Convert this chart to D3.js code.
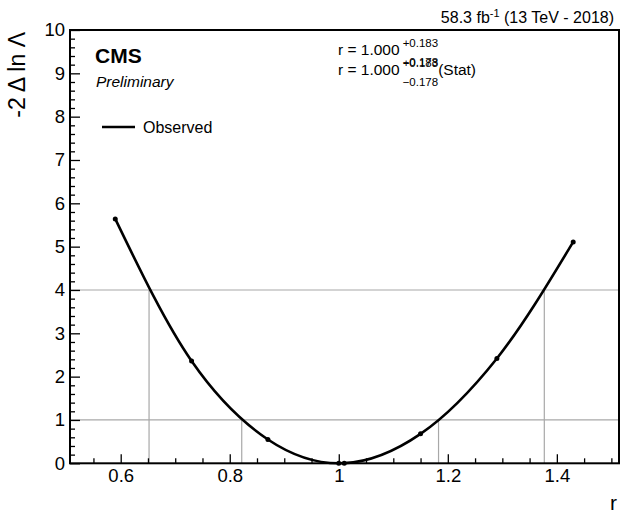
<!DOCTYPE html>
<head>
<meta charset="utf-8">
<style>
body, html {
  margin: 0;
  padding: 0;
  background: #fff;
  font-family: "Liberation Sans", Arial, sans-serif;
}
.grid {
  stroke: #a8a8a8;
  stroke-width: 1.2;
  fill: none;
}
.curve {
  fill: none;
  stroke: #000;
  stroke-width: 2.6;
}
.axis text {
  font-family: "Liberation Sans", Arial, sans-serif;
  font-size: 18.5px;
  fill: #000;
}
.axis line {
  stroke: #000;
  stroke-width: 1.3;
}
</style>
<script src="https://d3js.org/d3.v7.min.js"></script>
</head>
<body>
<script>

// likelihood scan points (r, -2 dlnL)
var scanR   = [0.59, 0.73, 0.87, 1.00, 1.01, 1.15, 1.29, 1.43];
var scanNll = [5.64, 2.36, 0.55, 0.00, 0.003, 0.68, 2.42, 5.11];

// 1 and 2 sigma crossings
var crossR     = [0.652, 0.822, 1.183, 1.377];
var crossLevel = [4, 1, 1, 4];
var levels     = [1, 4];

var xTicks = [0.6, 0.8, 1, 1.2, 1.4];
var xTickLabels = ["0.6", "0.8", "1", "1.2", "1.4"];
var yTicks = [0, 1, 2, 3, 4, 5, 6, 7, 8, 9, 10];

var fitLabels = ["", "(Stat)"];
var fitCentral = ["1.000", "1.000"];
var fitUp   = ["+0.183", "+0.183"];
var fitDown = ["\u22120.178", "\u22120.178"];

var width = 621,
    height = 516,
    m = {left: 70, right: 619, top: 30, bottom: 463.3};

var x = d3.scaleLinear().domain([0.507, 1.514]).range([m.left, m.right]);
var y = d3.scaleLinear().domain([0, 10]).range([m.bottom, m.top]);

var svg = d3.select("body").append("svg")
    .attr("width", width)
    .attr("height", height);

//--------------------------------------
// reference lines
svg.selectAll("line.hline")
    .data(levels)
  .enter().append("line")
    .attr("class", "grid")
    .attr("x1", m.left).attr("x2", m.right)
    .attr("y1", function(d) { return y(d); })
    .attr("y2", function(d) { return y(d); });

svg.selectAll("line.vline")
    .data(crossR)
  .enter().append("line")
    .attr("class", "grid")
    .attr("x1", function(d) { return x(d); })
    .attr("x2", function(d) { return x(d); })
    .attr("y1", y(0))
    .attr("y2", function(d, i) { return y(crossLevel[i]); });

//--------------------------------------
// axes
var xMinor = d3.range(0.55, 1.51, 0.05).filter(function(v) {
  return xTicks.every(function(t) { return Math.abs(t - v) > 1e-6; });
});
var yMinor = d3.range(0.2, 10, 0.2).filter(function(v) {
  return Math.abs(v - Math.round(v)) > 1e-6;
});

svg.append("g").attr("class", "axis")
    .attr("transform", "translate(0," + m.bottom + ")")
    .call(d3.axisBottom(x).tickValues(xMinor).tickSize(-5).tickFormat(""));
svg.append("g").attr("class", "axis")
    .attr("transform", "translate(0," + m.bottom + ")")
    .call(d3.axisBottom(x).tickValues(xTicks).tickSize(-9).tickPadding(6)
      .tickFormat(function(d, i) { return xTickLabels[i]; }));

svg.append("g").attr("class", "axis")
    .attr("transform", "translate(" + m.left + ",0)")
    .call(d3.axisLeft(y).tickValues(yMinor).tickSize(-5).tickFormat(""));
svg.append("g").attr("class", "axis")
    .attr("transform", "translate(" + m.left + ",0)")
    .call(d3.axisLeft(y).tickValues(yTicks).tickSize(-10).tickPadding(5));

svg.selectAll(".axis .domain").remove();

// frame
svg.append("rect")
    .attr("x", m.left).attr("y", m.top)
    .attr("width", m.right - m.left).attr("height", m.bottom - m.top)
    .attr("fill", "none").attr("stroke", "#000").attr("stroke-width", 2);

//--------------------------------------
// scan curve and points
var pts = scanR.map(function(r, i) { return [r, scanNll[i]]; });

var line = d3.line()
    .x(function(d) { return x(d[0]); })
    .y(function(d) { return y(d[1]); })
    .curve(d3.curveMonotoneX);

svg.append("path")
    .datum(pts)
    .attr("class", "curve")
    .attr("d", line);

svg.selectAll("circle.pt")
    .data(pts)
  .enter().append("circle")
    .attr("cx", function(d) { return x(d[0]); })
    .attr("cy", function(d) { return y(d[1]); })
    .attr("r", 2.5)
    .attr("fill", "#000");

//--------------------------------------
// titles
svg.append("text")
    .attr("transform", "translate(25,32) rotate(-90)")
    .attr("text-anchor", "end")
    .attr("font-size", 23)
    .text("-2 \u0394 ln \u039B");

svg.append("text")
    .attr("x", 617).attr("y", 510)
    .attr("text-anchor", "end")
    .attr("font-size", 21)
    .text("r");

var lumi = svg.append("text")
    .attr("x", 614).attr("y", 23)
    .attr("text-anchor", "end")
    .attr("font-size", 16);
lumi.append("tspan").text("58.3 fb");
lumi.append("tspan").attr("font-size", 11).attr("dy", -6).text("-1");
lumi.append("tspan").attr("dy", 6).text(" (13 TeV - 2018)");

svg.append("text")
    .attr("x", 95).attr("y", 63)
    .attr("font-size", 21).attr("font-weight", "bold")
    .text("CMS");
svg.append("text")
    .attr("x", 96).attr("y", 87)
    .attr("font-size", 15.5).attr("font-style", "italic")
    .text("Preliminary");

// legend
svg.append("line")
    .attr("x1", 102).attr("x2", 135)
    .attr("y1", 127).attr("y2", 127)
    .attr("stroke", "#000").attr("stroke-width", 2.6);
svg.append("text")
    .attr("x", 143).attr("y", 133)
    .attr("font-size", 16)
    .text("Observed");

// fit results
fitCentral.forEach(function(c, i) {
  var base = 55 + i * 20;
  var t = svg.append("text")
      .attr("x", 338).attr("y", base)
      .attr("font-size", 15.5)
      .text("r = " + c);
  var w = t.node().getComputedTextLength() + 3;
  var up = svg.append("text")
      .attr("x", 338 + w).attr("y", base - 8)
      .attr("font-size", 11.5)
      .text(fitUp[i]);
  var dn = svg.append("text")
      .attr("x", 338 + w).attr("y", base + 11)
      .attr("font-size", 11.5)
      .text(fitDown[i]);
  var ws = Math.max(up.node().getComputedTextLength(), dn.node().getComputedTextLength());
  svg.append("text")
      .attr("x", 338 + w + ws).attr("y", base)
      .attr("font-size", 15.5)
      .text(fitLabels[i]);
});

</script>
</body>
